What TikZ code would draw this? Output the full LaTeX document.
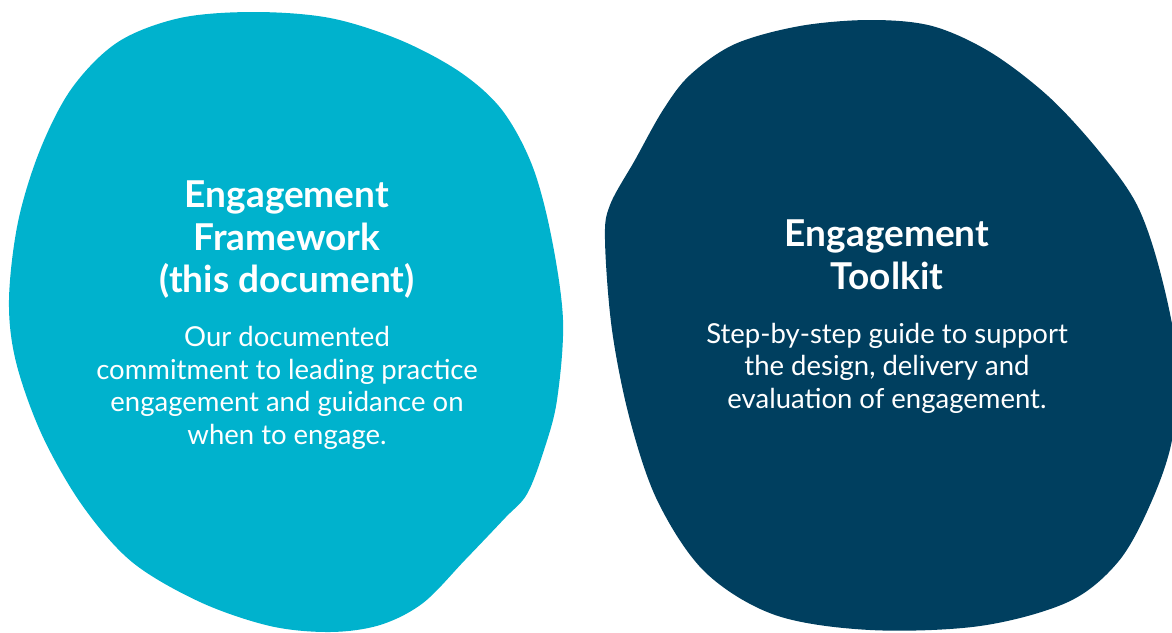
\documentclass[tikz,border=0pt]{standalone}
\usepackage{fontspec}
\setmainfont{Lato}
\usepackage{tikz}
\usetikzlibrary{positioning}
\definecolor{fwblue}{HTML}{00B2CD}
\definecolor{tknavy}{HTML}{003F5F}

\begin{document}
\begin{tikzpicture}[x=1pt,y=-1pt]
	\def \fwx{287}
	\def \tkx{887}
	\tikzstyle{blob}=[draw=none]
	\tikzstyle{title}=[text=white,align=center,font=\fontsize{37}{42.5}\selectfont\bfseries,inner sep=0pt]
	\tikzstyle{blurb}=[text=white,align=center,font=\fontsize{27.5}{32.5}\selectfont,inner sep=0pt]
	\useasboundingbox (0,0) rectangle (1172,632);

	% framework blob
	\fill[blob,fwblue] plot[smooth cycle,tension=0.55] coordinates {
		(254,12) (330,18) (400,40) (460,72) (502,110) (532,165)
		(551,235) (563,320) (557,400) (544,450) (527,494) (505,518)
		(465,560) (423,603) (380,625) (330,632) (270,626) (200,602)
		(132,562) (82,505) (42,435) (16,362) (9,300) (18,222)
		(40,150) (72,88) (118,42) (180,18)};

	% toolkit blob
	\fill[blob,tknavy] plot[smooth cycle,tension=0.55] coordinates {
		(870,20) (932,26) (990,52) (1048,96) (1098,150) (1137,205)
		(1161,275) (1177,360) (1172,440) (1150,505) (1118,562) (1068,602)
		(980,626) (870,630) (775,615) (705,572) (658,502) (630,420)
		(612,330) (605,240) (610,205) (635,160) (663,110) (690,75)
		(735,44) (800,26)};

	% texts
	\node[title] (fw-title) at (\fwx,240) {Engagement\\Framework\\(this document)};
	\node[blurb] (fw-text) at (\fwx,388) {Our documented\\commitment to leading practice\\engagement and guidance on\\when to engage.};
	\node[title] (tk-title) at (\tkx,255) {Engagement\\Toolkit};
	\node[blurb] (tk-text) at (\tkx,368) {Step-by-step guide to support\\the design, delivery and\\evaluation of engagement.};
\end{tikzpicture}
\end{document}
